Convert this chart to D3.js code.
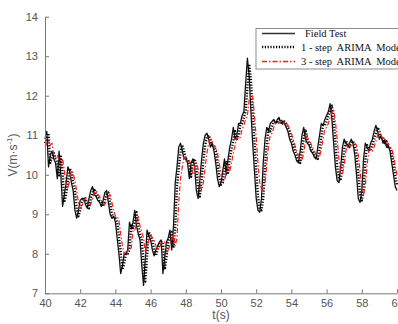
<!DOCTYPE html>
<html>
<head>
<meta charset="utf-8">
<script src="https://cdn.jsdelivr.net/npm/d3@7"></script>
<style>
  html, body { margin: 0; padding: 0; background: #fff; overflow: hidden; }
  svg { display: block; }
</style>
</head>
<body>
<script>
// Sample times: 40.0 .. 60.0 s, step 0.1 s
const tStart = 40, tStep = 0.1;

// Field test wind speed (m/s)
const fieldTest = [
  10.9, 11.1, 10.2, 10.5, 10.6, 10.4, 10.3, 9.9, 10.6, 10.0,
  9.2, 9.5, 9.8, 10.2, 10.1, 9.8, 9.6, 9.1, 8.9, 9.1,
  9.35, 9.4, 9.4, 9.25, 9.15, 9.4, 9.6, 9.7, 9.5, 9.45,
  9.35, 9.3, 9.2, 9.35, 9.55, 9.6, 9.3, 9.0, 8.9, 8.95,
  8.8, 8.4, 8.0, 7.5, 7.7, 8.0, 8.0, 8.1, 8.8, 8.65,
  8.8, 9.1, 8.7, 8.5, 8.35, 7.7, 7.2, 7.9, 8.6, 8.45,
  8.35, 8.1, 7.95, 8.1, 8.2, 8.3, 8.35, 7.5, 7.9, 8.3,
  8.4, 8.6, 8.1, 8.7, 9.8, 10.2, 10.7, 10.8, 10.6, 10.4,
  10.4, 10.3, 9.9, 10.3, 10.4, 10.2, 9.6, 9.4, 9.9, 10.4,
  10.8, 11.0, 11.05, 10.9, 10.7, 10.8, 10.6, 10.3, 9.9, 9.7,
  9.8, 10.1, 10.4, 10.0, 10.4, 10.7, 10.9, 11.2, 10.9, 11.0,
  11.3, 11.3, 11.5, 11.6, 12.3, 12.95, 12.5, 11.6, 10.8, 10.1,
  9.4, 9.1, 9.05, 9.4, 10.3, 10.9, 11.2, 11.1, 11.3, 11.35,
  11.4, 11.3, 11.4, 11.45, 11.3, 11.35, 11.3, 11.2, 11.1, 10.9,
  10.8, 10.6, 10.5, 10.35, 10.3, 10.6, 11.0, 11.2, 10.9, 10.8,
  10.75, 10.6, 10.55, 10.45, 10.4, 10.7, 11.0, 11.3, 11.25, 11.4,
  11.5, 11.6, 11.8, 11.4, 10.8, 10.2, 9.85, 9.8, 10.2, 10.7,
  10.9, 10.8, 10.7, 10.8, 10.9, 10.8, 10.5, 10.0, 9.4, 9.3,
  9.6, 10.4, 10.8, 10.7, 10.6, 10.8, 10.9, 11.1, 11.25, 11.1,
  10.9, 11.0, 10.8, 10.9, 10.7, 10.75, 10.6, 10.3, 10.0, 9.7,
  9.6
];

// 1-step ARIMA prediction
const oneStep = [
  10.8, 10.9, 11.05, 10.3, 10.45, 10.55, 10.4, 10.3, 9.95, 10.5,
  10.05, 9.3, 9.5, 9.8, 10.15, 10.1, 9.8, 9.6, 9.15, 8.95,
  9.1, 9.3, 9.4, 9.4, 9.25, 9.15, 9.4, 9.55, 9.65, 9.5,
  9.45, 9.35, 9.3, 9.2, 9.35, 9.5, 9.55, 9.3, 9.0, 8.9,
  8.9, 8.8, 8.45, 8.05, 7.6, 7.75, 8.0, 8.0, 8.1, 8.75,
  8.65, 8.8, 9.05, 8.7, 8.5, 8.35, 7.75, 7.3, 7.95, 8.55,
  8.45, 8.35, 8.1, 7.95, 8.1, 8.2, 8.3, 8.3, 7.6, 7.9,
  8.3, 8.4, 8.55, 8.15, 8.65, 9.7, 10.15, 10.6, 10.75, 10.6,
  10.4, 10.4, 10.3, 9.95, 10.3, 10.4, 10.2, 9.65, 9.45, 9.9,
  10.35, 10.75, 10.95, 11.0, 10.9, 10.7, 10.75, 10.6, 10.3, 9.95,
  9.75, 9.8, 10.1, 10.35, 10.05, 10.4, 10.65, 10.85, 11.1, 10.9,
  11.0, 11.25, 11.3, 11.45, 11.6, 12.2, 12.8, 12.4, 11.6, 10.85,
  10.15, 9.45, 9.15, 9.1, 9.4, 10.2, 10.8, 11.15, 11.1, 11.25,
  11.35, 11.35, 11.3, 11.4, 11.4, 11.3, 11.35, 11.3, 11.2, 11.1,
  10.9, 10.8, 10.6, 10.5, 10.35, 10.3, 10.6, 10.95, 11.15, 10.9,
  10.8, 10.7, 10.6, 10.5, 10.45, 10.4, 10.65, 10.95, 11.25, 11.25,
  11.35, 11.5, 11.6, 11.75, 11.4, 10.85, 10.25, 9.9, 9.85, 10.2,
  10.65, 10.85, 10.8, 10.7, 10.8, 10.85, 10.75, 10.5, 10.05, 9.5,
  9.35, 9.6, 10.35, 10.75, 10.7, 10.6, 10.75, 10.9, 11.05, 11.2,
  11.1, 10.9, 10.95, 10.8, 10.85, 10.7, 10.7, 10.55, 10.3, 10.0,
  9.75
];

// 3-step ARIMA prediction
const threeStep = [
  10.7, 10.8, 10.85, 10.75, 10.8, 10.5, 10.45, 10.5, 10.35, 10.2,
  10.4, 10.1, 9.7, 9.65, 9.85, 10.1, 10.05, 9.85, 9.6, 9.3,
  9.15, 9.2, 9.35, 9.4, 9.35, 9.25, 9.25, 9.4, 9.55, 9.6,
  9.5, 9.45, 9.35, 9.3, 9.25, 9.35, 9.45, 9.5, 9.3, 9.1,
  8.95, 8.95, 8.85, 8.5, 8.2, 8.0, 8.05, 8.1, 8.1, 8.15,
  8.6, 8.6, 8.75, 8.95, 8.7, 8.55, 8.4, 8.0, 8.2, 8.35,
  8.5, 8.4, 8.35, 8.2, 8.1, 8.15, 8.25, 8.3, 8.3, 8.05,
  8.05, 8.25, 8.35, 8.5, 8.2, 8.4, 9.3, 9.9, 10.2, 10.45,
  10.35, 10.3, 10.35, 10.25, 10.0, 10.2, 10.3, 10.15, 9.8, 9.6,
  9.8, 10.2, 10.55, 10.8, 10.9, 10.85, 10.7, 10.7, 10.55, 10.3,
  10.0, 9.85, 9.85, 10.05, 10.25, 10.1, 10.3, 10.55, 10.75, 10.95,
  10.9, 10.95, 11.15, 11.25, 11.4, 11.5, 11.9, 12.0, 12.0, 11.5,
  10.95, 10.3, 9.8, 9.6, 9.65, 9.75, 10.25, 10.75, 11.0, 11.05,
  11.2, 11.3, 11.3, 11.3, 11.35, 11.35, 11.3, 11.3, 11.25, 11.15,
  11.05, 10.9, 10.75, 10.6, 10.5, 10.4, 10.35, 10.55, 10.85, 11.0,
  10.85, 10.8, 10.7, 10.6, 10.5, 10.45, 10.45, 10.65, 10.9, 11.15,
  11.2, 11.3, 11.45, 11.55, 11.65, 11.35, 10.9, 10.4, 10.05, 10.0,
  10.25, 10.6, 10.8, 10.75, 10.7, 10.75, 10.8, 10.75, 10.5, 10.1,
  9.65, 9.5, 9.7, 10.25, 10.6, 10.65, 10.6, 10.7, 10.85, 11.0,
  11.1, 11.0, 10.9, 10.9, 10.8, 10.8, 10.7, 10.65, 10.5, 10.25,
  10.0
];

const xTicks = [40, 42, 44, 46, 48, 50, 52, 54, 56, 58, 60];
const yTicks = [7, 8, 9, 10, 11, 12, 13, 14];
const legendLabels = ["Field Test", "1 - step  ARIMA  Model", "3 - step  ARIMA  Model"];

const width = 398, height = 324;
const x = d3.scaleLinear().domain([40, 60]).range([45, 397]);
const y = d3.scaleLinear().domain([7, 14]).range([293.3, 16.7]);

const svg = d3.select("body").append("svg")
  .attr("width", width)
  .attr("height", height);

const axisColor = "#7a7a7a";
const labelColor = "#555";

// series
const series = [
  { values: fieldTest, color: "#111", width: 1.3, dash: null },
  { values: oneStep, color: "#000", width: 2.4, dash: "1.2,1.6" },
  { values: threeStep, color: "#ff1a1a", width: 1.2, dash: "5,2,1.5,2" }
];

const line = d3.line()
  .x((d, i) => x(tStart + i * tStep))
  .y(d => y(d));

series.forEach(s => {
  svg.append("path")
    .datum(s.values)
    .attr("fill", "none")
    .attr("stroke", s.color)
    .attr("stroke-width", s.width)
    .attr("stroke-dasharray", s.dash)
    .attr("stroke-linejoin", "round")
    .attr("d", line);
});

// axes (ticks pointing inward)
const xAxis = svg.append("g")
  .attr("transform", `translate(0,${y(7)})`)
  .call(d3.axisBottom(x).tickValues(xTicks).tickFormat(d3.format("d"))
    .tickSizeInner(-4).tickSizeOuter(0).tickPadding(6));

const yAxis = svg.append("g")
  .attr("transform", `translate(${x(40)},0)`)
  .call(d3.axisLeft(y).tickValues(yTicks).tickFormat(d3.format("d"))
    .tickSizeInner(-4).tickSizeOuter(0).tickPadding(7));

[xAxis, yAxis].forEach(g => {
  g.select(".domain").attr("stroke", axisColor);
  g.selectAll(".tick line").attr("stroke", axisColor);
  g.selectAll(".tick text")
    .attr("fill", labelColor)
    .style("font", "11px 'Liberation Sans', Arial, sans-serif");
});

// axis labels
svg.append("text")
  .attr("x", 221)
  .attr("y", 319)
  .attr("text-anchor", "middle")
  .attr("fill", labelColor)
  .style("font", "12px 'Liberation Sans', Arial, sans-serif")
  .text("t(s)");

const yl = svg.append("text")
  .attr("transform", "translate(17,155) rotate(-90)")
  .attr("text-anchor", "middle")
  .attr("fill", labelColor)
  .style("font", "12px 'Liberation Sans', Arial, sans-serif");
yl.append("tspan").text("V(m·s");
yl.append("tspan").attr("dy", -5).style("font-size", "8px").text("-1");
yl.append("tspan").attr("dy", 5).text(")");

// legend
const legend = svg.append("g");
legend.append("rect")
  .attr("x", 256)
  .attr("y", 28.5)
  .attr("width", 170)
  .attr("height", 40.5)
  .attr("fill", "#fff")
  .attr("stroke", "#8c8c8c")
  .attr("stroke-width", 1);

const rowY = [33.5, 47, 61.5];
const textX = [305, 301, 301];
series.forEach((s, i) => {
  legend.append("line")
    .attr("x1", 262).attr("x2", 295)
    .attr("y1", rowY[i]).attr("y2", rowY[i])
    .attr("stroke", i === 0 ? "#333" : s.color)
    .attr("stroke-width", i === 1 ? 2.4 : 1.3)
    .attr("stroke-dasharray", s.dash);
  legend.append("text")
    .attr("x", textX[i])
    .attr("y", rowY[i] + 3.5)
    .attr("fill", "#111")
    .style("font", "10.5px 'Liberation Serif', 'Times New Roman', serif")
    .style("white-space", "pre")
    .text(legendLabels[i]);
});
</script>
</body>
</html>
